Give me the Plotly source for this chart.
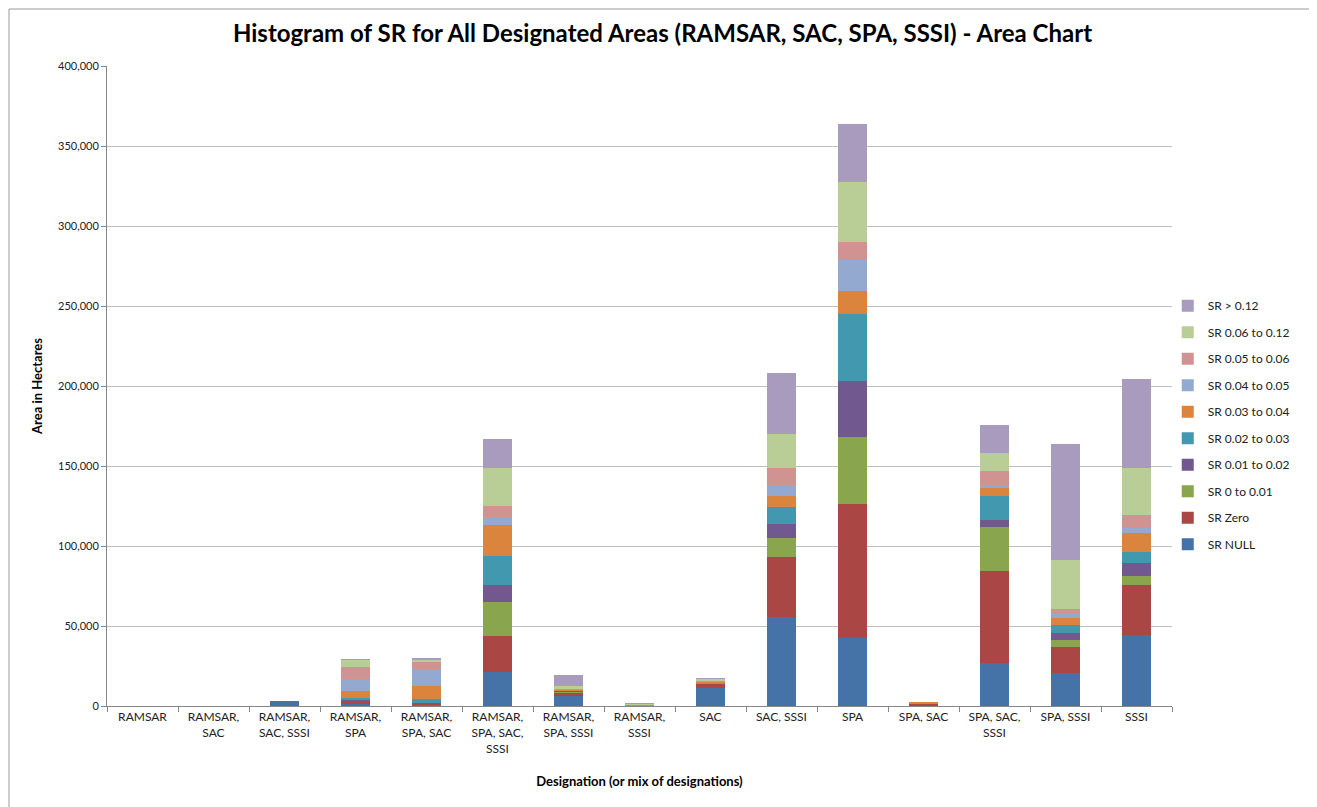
import plotly.graph_objects as go

categories = ["RAMSAR", "RAMSAR, SAC", "RAMSAR, SAC, SSSI", "RAMSAR, SPA", "RAMSAR, SPA, SAC",
              "RAMSAR, SPA, SAC, SSSI", "RAMSAR, SPA, SSSI", "RAMSAR, SSSI", "SAC", "SAC, SSSI",
              "SPA", "SPA, SAC", "SPA, SAC, SSSI", "SPA, SSSI", "SSSI"]
tick_labels = ["RAMSAR", "RAMSAR,<br>SAC", "RAMSAR,<br>SAC, SSSI", "RAMSAR,<br>SPA", "RAMSAR,<br>SPA, SAC",
               "RAMSAR,<br>SPA, SAC,<br>SSSI", "RAMSAR,<br>SPA, SSSI", "RAMSAR,<br>SSSI", "SAC", "SAC, SSSI",
               "SPA", "SPA, SAC", "SPA, SAC,<br>SSSI", "SPA, SSSI", "SSSI"]

sr_null      = [0, 0, 3000, 1500, 1200, 21500, 6500, 0,   11500, 55800, 42700, 0,    27100, 20800, 44200]
sr_zero      = [0, 0, 0,    1000, 300,  22300, 2000, 200, 2700,  37300, 83750, 1500, 57300, 16000, 31500]
sr_0_001     = [0, 0, 0,    500,  300,  21250, 800,  0,   300,   11700, 41900, 300,  27700, 4200,  5400]
sr_001_002   = [0, 0, 0,    1000, 300,  10800, 300,  0,   200,   9200,  35000, 0,    4000,  4800,  8500]
sr_002_003   = [0, 0, 0,    1200, 2500, 17700, 300,  0,   200,   10600, 41700, 0,    15200, 4800,  6700]
sr_003_004   = [0, 0, 0,    4000, 7900, 19600, 300,  600, 500,   6700,  14600, 300,  4800,  4200,  12100]
sr_004_005   = [0, 0, 0,    7500, 10400, 4400, 300,  0,   200,   6500,  19400, 0,    1500,  2500,  2700]
sr_005_006   = [0, 0, 0,    7500, 4600, 7700,  300,  0,   500,   11250, 10800, 0,    9200,  3500,  8300]
sr_006_012   = [0, 0, 0,    4800, 1700, 23300, 1800, 500, 800,   21000, 37500, 0,    11250, 30400, 29600]
sr_gt_012    = [0, 0, 0,    300,  300,  18300, 6500, 200, 600,   38300, 36500, 0,    17500, 72300, 55200]

series = [
    ("SR NULL", sr_null, "#4572A7"),
    ("SR Zero", sr_zero, "#AA4643"),
    ("SR 0 to 0.01", sr_0_001, "#89A54E"),
    ("SR 0.01 to 0.02", sr_001_002, "#71588F"),
    ("SR 0.02 to 0.03", sr_002_003, "#4198AF"),
    ("SR 0.03 to 0.04", sr_003_004, "#DB843D"),
    ("SR 0.04 to 0.05", sr_004_005, "#93A9CF"),
    ("SR 0.05 to 0.06", sr_005_006, "#D19392"),
    ("SR 0.06 to 0.12", sr_006_012, "#B9CD96"),
    ("SR > 0.12", sr_gt_012, "#A99BBD"),
]

FONT = "Lato"
W, H = 1309, 799
ML, MT = 99, 58
PW, PH = 1065, 640
MR = W - ML - PW
MB = H - MT - PH

fig = go.Figure()
n = len(series)
for i, (name, vals, color) in enumerate(series):
    fig.add_trace(go.Bar(name=name, x=categories, y=vals, marker_color=color,
                         marker_line_width=0, legendgroup=name, legendrank=1000 - i))

fig.update_layout(
    barmode="stack",
    bargap=0.59,
    width=W, height=H,
    paper_bgcolor="white", plot_bgcolor="white",
    margin=dict(l=ML, r=MR, t=MT, b=MB, autoexpand=False),
    font=dict(family=FONT, size=11, color="#222"),
    title=dict(text="<b>Histogram of SR for All Designated Areas (RAMSAR, SAC, SPA, SSSI) - Area Chart</b>",
               x=0.5, xanchor="center", y=1 - 26 / H, yanchor="middle",
               font=dict(family=FONT, size=24, color="#000")),
    legend=dict(traceorder="grouped", x=0.996, xanchor="left", y=0.648, yanchor="top",
                font=dict(family=FONT, size=12, color="#222"), tracegroupgap=7.5,
                itemwidth=30, bgcolor="rgba(0,0,0,0)"),
    xaxis=dict(type="category", tickmode="array", tickvals=categories, ticktext=tick_labels,
               tickangle=0, showline=True, linecolor="#868686", linewidth=1,
               ticks="outside", tickson="boundaries", ticklen=5, tickcolor="#868686",
               showgrid=False, tickfont=dict(size=12, color="#222"),
               title=dict(text="<b>Designation (or mix of designations)</b>",
                          font=dict(family=FONT, size=13, color="#000"), standoff=22)),
    yaxis=dict(range=[0, 400000], dtick=50000, tickformat=",d", showgrid=True,
               gridcolor="#BFBFBF", gridwidth=1, showline=True, linecolor="#868686",
               ticks="outside", ticklen=5, tickcolor="#868686", zeroline=False,
               tickfont=dict(size=11, color="#222"),
               title=dict(text="<b>Area in Hectares</b>",
                          font=dict(family=FONT, size=13, color="#000"), standoff=12)),
    shapes=[dict(type="rect", xref="paper", yref="paper",
                 x0=(-ML + 1) / PW, x1=(1302 - ML) / PW,
                 y0=(-MB - 5) / PH, y1=(MT - 1) / PH + 1,
                 line=dict(color="#9a9a9a", width=1), fillcolor="rgba(0,0,0,0)", layer="below")],
)

fig.write_html("out.html")
